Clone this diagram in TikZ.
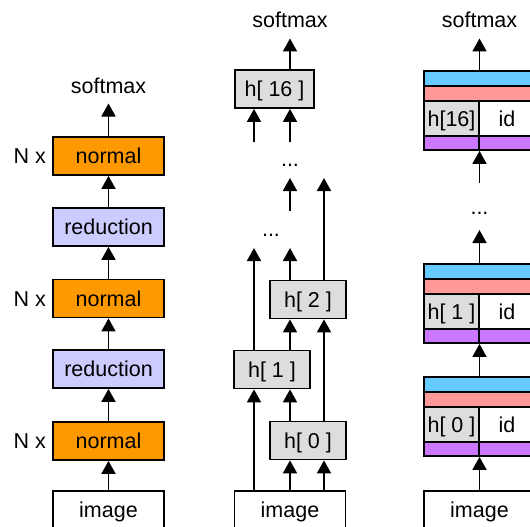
\documentclass[tikz,border=0pt]{standalone}
\usepackage{fontspec}
\setmainfont{Liberation Sans}
\definecolor{NormalOrange}{RGB}{255,153,0}
\definecolor{ReduceBlue}{RGB}{204,204,255}
\definecolor{HiddenGray}{RGB}{221,221,221}
\definecolor{BarBlue}{RGB}{102,204,255}
\definecolor{BarPink}{RGB}{255,153,153}
\definecolor{BarPurple}{RGB}{204,119,255}
\usetikzlibrary{arrows.meta, positioning}

\begin{document}
\begin{tikzpicture}[x=1pt, y=-1pt,
        font=\fontsize{21.5}{26}\selectfont,
        box/.style={draw, line width=1.8pt, rectangle, minimum width=111pt, minimum height=38pt, inner xsep=10pt, inner ysep=0pt, text height=15pt, text depth=0pt},
        normalbox/.style={box, fill=NormalOrange},
        reducebox/.style={box, fill=ReduceBlue},
        hidbox/.style={box, fill=HiddenGray, minimum width=76pt},
        bar/.style={draw, line width=1.8pt, rectangle, minimum height=15pt, inner sep=0pt},
        cell/.style={draw, line width=1.8pt, rectangle, minimum height=35pt, inner sep=0pt, text height=15pt, text depth=0pt},
        lbl/.style={inner sep=0pt, outer ysep=10.5pt, text height=15pt, text depth=0pt},
        nx/.style={inner sep=0pt, text height=15pt, text depth=0pt},
        arrow/.style={-{Triangle[length=13pt, width=14pt]}, line width=1.8pt}]

        \useasboundingbox (0,0) rectangle (530,527);
        \clip (0,0) rectangle (530,527);

        % Left: stacked cells
        \node[box] (imgA) at (108.5,510) {image};
        \node[normalbox] (n1) at (108.5,441) {normal};
        \node[reducebox] (r1) at (108.5,369) {reduction};
        \node[normalbox] (n2) at (108.5,298.5) {normal};
        \node[reducebox] (r2) at (108.5,227) {reduction};
        \node[normalbox] (n3) at (108.5,156) {normal};
        \node[lbl, anchor=base] (smA) at (108.5,93) {softmax};

        \node[nx, left=6pt of n1] (nx1) {N x};
        \node[nx, left=6pt of n2] (nx2) {N x};
        \node[nx, left=6pt of n3] (nx3) {N x};

        \draw[arrow] (imgA) -- (n1);
        \draw[arrow] (n1) -- (r1);
        \draw[arrow] (r1) -- (n2);
        \draw[arrow] (n2) -- (r2);
        \draw[arrow] (r2) -- (n3);
        \draw[arrow] (n3) -- (smA);

        % Middle: hidden states
        \coordinate (ca) at (254,0);
        \coordinate (cb) at (290,0);
        \coordinate (cc) at (324,0);

        \node[box] (imgB) at (290,510) {image};
        \node[hidbox] (h0) at (308,440.5) {h[ 0 ]};
        \node[hidbox] (h1) at (272,369.5) {h[ 1 ]};
        \node[hidbox] (h2) at (308,299.5) {h[ 2 ]};
        \node[hidbox] (h16) at (274.5,89) {h[ 16 ]};
        \node[lbl, anchor=base] (smB) at (290,28) {softmax};
        \node[nx, anchor=base] (dotsB1) at (271,236.5) {...};
        \node[nx, anchor=base] (dotsB2) at (290,166.5) {...};

        \coordinate (e1) at (254,248);
        \coordinate (e2) at (290,248);
        \coordinate (e3) at (290,211);
        \coordinate (e4) at (290,178);
        \coordinate (e5) at (324,178);
        \coordinate (e6) at (254,142);
        \coordinate (e7) at (290,142);

        \draw[arrow] (imgB.north -| ca) -- (h1.south -| ca);
        \draw[arrow] (imgB.north -| cb) -- (h0.south -| cb);
        \draw[arrow] (imgB.north -| cc) -- (h0.south -| cc);
        \draw[arrow] (h0.north -| cb) -- (h1.south -| cb);
        \draw[arrow] (h0.north -| cc) -- (h2.south -| cc);
        \draw[arrow] (h1.north -| cb) -- (h2.south -| cb);
        \draw[arrow] (h1.north -| ca) -- (e1);
        \draw[arrow] (h2.north -| cb) -- (e2);
        \draw[arrow] (h2.north -| cc) -- (e5);
        \draw[arrow] (e3) -- (e4);
        \draw[arrow] (e6) -- (h16.south -| ca);
        \draw[arrow] (e7) -- (h16.south -| cb);
        \draw[arrow] (h16.north -| cb) -- (smB);

        % Right: blocks with id
        \node[box] (imgC) at (479.5,510) {image};
        \foreach \nm/\yy/\hl in {k0/377/{h[ 0 ]}, k1/264/{h[ 1 ]}, k16/71/{h[16]}} {
            \node[bar, fill=BarBlue, minimum width=111pt] (\nm-b) at (479.5,\yy+7.5) {};
            \node[bar, fill=BarPink, minimum width=111pt] (\nm-p) at (479.5,\yy+22.5) {};
            \node[cell, fill=HiddenGray, minimum width=55pt] (\nm-h) at (451.5,\yy+47.5) {\hl};
            \node[cell, minimum width=56pt] (\nm-i) at (507,\yy+47.5) {id};
            \node[bar, fill=BarPurple, minimum width=55pt, minimum height=14pt] (\nm-l) at (451.5,\yy+72) {};
            \node[bar, fill=BarPurple, minimum width=56pt, minimum height=14pt] (\nm-r) at (507,\yy+72) {};
        }
        \node[lbl, anchor=base] (smC) at (479.5,28) {softmax};
        \node[nx, anchor=base] (dotsC) at (479.5,214.5) {...};

        \coordinate (f1) at (479.5,230);
        \coordinate (f2) at (479.5,183);

        \draw[arrow] (imgC) -- (imgC |- k0-l.south);
        \draw[arrow] (k0-b) -- (k0-b |- k1-l.south);
        \draw[arrow] (k1-b) -- (f1);
        \draw[arrow] (f2) -- (f2 |- k16-l.south);
        \draw[arrow] (k16-b) -- (smC);

    \end{tikzpicture}
\end{document}
